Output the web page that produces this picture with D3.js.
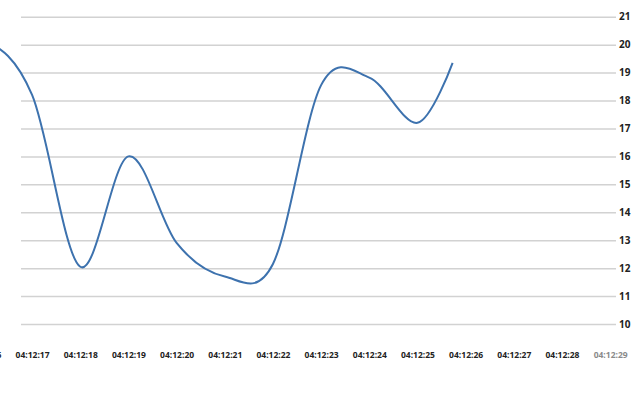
<!DOCTYPE html>
<html>
<head>
<meta charset="utf-8">
<script src="https://cdn.jsdelivr.net/npm/d3@7"></script>
<style>
  html, body { margin: 0; padding: 0; background: #fff; }
  svg { display: block; }
</style>
</head>
<body>
<svg id="chart" width="640" height="400"></svg>
<script>
// ---- data ----
const times = ["04:12:15.000", "04:12:16.000", "04:12:17.000", "04:12:18.000", "04:12:19.000",
               "04:12:20.000", "04:12:21.000", "04:12:22.000", "04:12:23.000", "04:12:24.000",
               "04:12:25.000", "04:12:25.730"];
const values = [19.6, 20.15, 18.2, 12.05, 16.0, 12.9, 11.7, 12.15, 18.55, 18.82, 17.2, 19.35];
const yTicks = [10, 11, 12, 13, 14, 15, 16, 17, 18, 19, 20, 21];
const xTickLabels = ["04:12:16", "04:12:17", "04:12:18", "04:12:19", "04:12:20", "04:12:21", "04:12:22",
                     "04:12:23", "04:12:24", "04:12:25", "04:12:26", "04:12:27", "04:12:28", "04:12:29"];
const xDomain = ["04:12:16.334", "04:12:29.620"];
const yDomain = [10, 21];

// ---- setup ----
const W = 640, H = 400;
const parseMs = d3.timeParse("%H:%M:%S.%L");
const parseS = d3.timeParse("%H:%M:%S");
const data = times.map((t, i) => ({ t: parseMs(t), v: values[i] }));

const x = d3.scaleTime().domain(xDomain.map(parseMs)).range([0, W]);
const y = d3.scaleLinear().domain(yDomain).range([324, 16.7]);

const svg = d3.select("#chart");
const font = "'Open Sans', 'DejaVu Sans', sans-serif";

// grid lines + right labels
const gridLeft = 21, gridRight = 616;
const yAxis = d3.axisRight(y).tickValues(yTicks).tickSize(gridRight - gridLeft).tickPadding(3)
  .tickFormat(d3.format("d"));
const gy = svg.append("g").attr("transform", `translate(${gridLeft},0)`).call(yAxis);
gy.select(".domain").remove();
gy.selectAll(".tick line").attr("stroke", "#d2d2d2").attr("stroke-width", 1.5);
gy.selectAll(".tick text")
  .attr("fill", "#222").attr("font-family", font).attr("font-weight", "bold").attr("font-size", 10);

// x axis labels
const xAxis = d3.axisBottom(x).tickValues(xTickLabels.map(parseS)).tickSize(0).tickPadding(0)
  .tickFormat(d3.timeFormat("%H:%M:%S"));
const gx = svg.append("g").attr("transform", "translate(0,352)").call(xAxis);
gx.select(".domain").remove();
gx.selectAll(".tick text")
  .attr("fill", (d, i) => i === xTickLabels.length - 1 ? "#8a8a8a" : "#222")
  .attr("font-family", font).attr("font-weight", "bold").attr("font-size", 8.5);

// line
const line = d3.line().x(d => x(d.t)).y(d => y(d.v)).curve(d3.curveCardinal.tension(0));
svg.append("path").datum(data)
  .attr("d", line)
  .attr("fill", "none")
  .attr("stroke", "#3d72ae")
  .attr("stroke-width", 2);
</script>
</body>
</html>
